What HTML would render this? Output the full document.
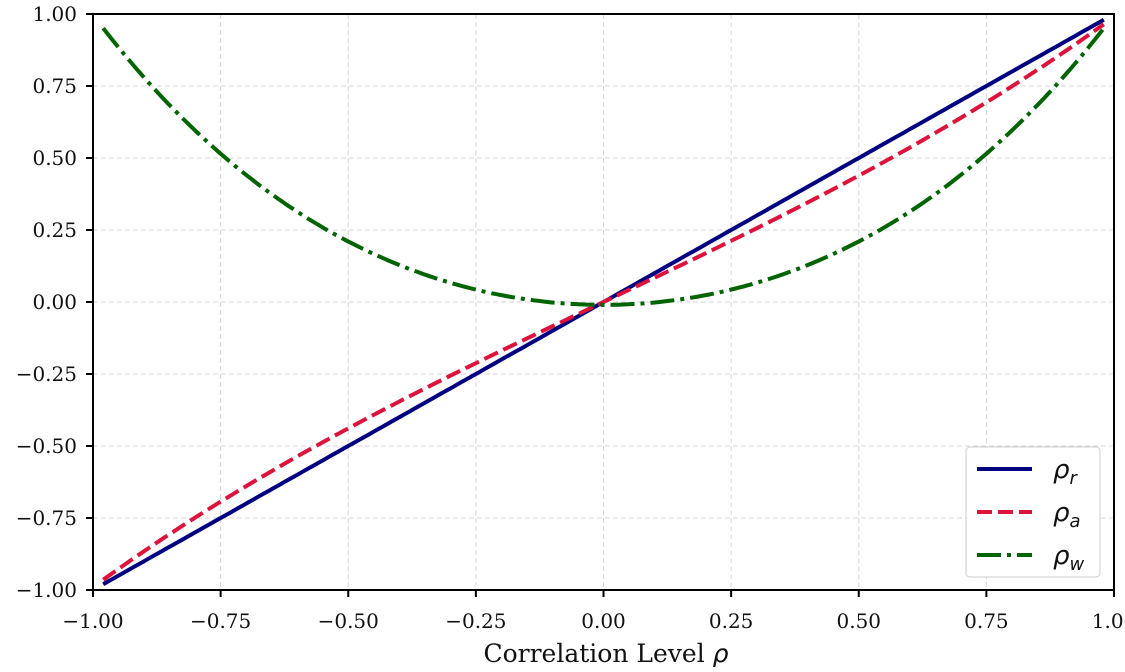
<!DOCTYPE html>
<html><head><meta charset="utf-8"><style>
body{margin:0;background:#fff;}
svg{display:block;font-family:"DejaVu Serif","Liberation Serif",serif;}
</style></head><body>
<svg id="s" width="1125" height="672" viewBox="0 0 1125 672" xmlns="http://www.w3.org/2000/svg">
<g id="grid" stroke="#d6d6d6" stroke-width="1" stroke-dasharray="5,3"></g>
<g id="series" fill="none" stroke-width="4"></g>
<rect x="93" y="14" width="1021" height="576" fill="none" stroke="#000" stroke-width="2"/>
<g id="ticks" stroke="#000" stroke-width="2"></g>
<g id="labels" font-size="20" fill="#111"></g>
<text x="606" y="662" font-size="25" text-anchor="middle" fill="#111">Correlation Level <tspan font-family="DejaVu Sans" font-style="italic">ρ</tspan></text>
<rect x="966" y="447" width="134" height="130" rx="4" fill="#fff" fill-opacity="0.9" stroke="#ccc" stroke-width="1"/>
<line x1="977" y1="469" x2="1032" y2="469" stroke="#000080" stroke-width="4"/>
<line x1="977" y1="512" x2="1032" y2="512" stroke="#dc143c" stroke-width="4" stroke-dasharray="15,6"/>
<line x1="977" y1="555" x2="1032" y2="555" stroke="#006400" stroke-width="4" stroke-dasharray="24,6,4,6"/>
<g font-family="DejaVu Sans" font-style="italic" font-size="26" fill="#111">
<text x="1053" y="478">ρ<tspan font-size="18" dy="6">r</tspan></text>
<text x="1053" y="521">ρ<tspan font-size="18" dy="6">a</tspan></text>
<text x="1053" y="564">ρ<tspan font-size="18" dy="6">w</tspan></text>
</g>
</svg>
<script>
const NS="http://www.w3.org/2000/svg";
const X=v=>603.5+v*510.5, Y=v=>302-v*288;
function el(p,t,a,txt){const e=document.createElementNS(NS,t);for(const k in a)e.setAttribute(k,a[k]);if(txt)e.textContent=txt;document.getElementById(p).appendChild(e);}
const vals=[-1,-0.75,-0.5,-0.25,0,0.25,0.5,0.75,1];
vals.forEach(v=>{
 const s=(v<0?"\u2212":"")+Math.abs(v).toFixed(2);
 if(Math.abs(v)<1){el("grid","line",{x1:X(v),x2:X(v),y1:14,y2:590});el("grid","line",{x1:93,x2:1114,y1:Y(v),y2:Y(v)});}
 el("ticks","line",{x1:X(v),x2:X(v),y1:590,y2:597});
 el("ticks","line",{x1:86,x2:93,y1:Y(v),y2:Y(v)});
 el("labels","text",{x:X(v),y:628,"text-anchor":"middle"},s);
 el("labels","text",{x:77,y:Y(v)+7,"text-anchor":"end"},s);
});
function path(f){let d="";for(let i=0;i<=200;i++){const x=-0.98+1.96*i/200;d+=(i?"L":"M")+X(x).toFixed(1)+","+Y(f(x)).toFixed(1);}return d;}
el("series","path",{d:path(x=>x),stroke:"#000080"});
el("series","path",{d:path(x=>x*(0.84+0.15*x*x)),stroke:"#dc143c","stroke-dasharray":"15,6"});
el("series","path",{d:path(x=>0.838*x*x+0.169*x**4-0.01),stroke:"#006400","stroke-dasharray":"24,6,4,6"});
</script>
</body></html>
